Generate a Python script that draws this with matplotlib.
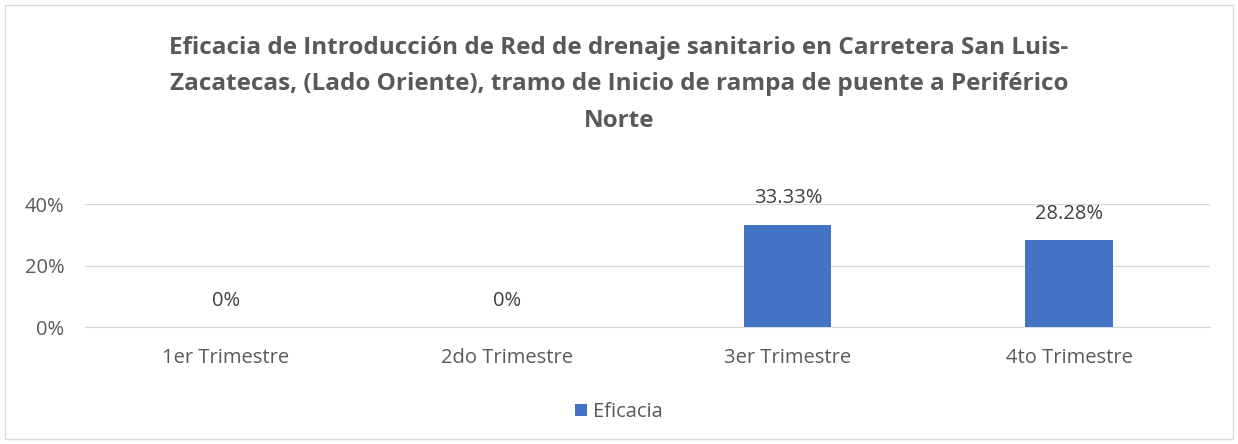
import matplotlib.pyplot as plt
from matplotlib.ticker import PercentFormatter

plt.rcParams['font.family'] = ['Open Sans', 'DejaVu Sans']

categories = ['1er Trimestre', '2do Trimestre', '3er Trimestre', '4to Trimestre']
eficacia = [0.0, 0.0, 33.33, 28.28]
value_labels = ['0%', '0%', '33.33%', '28.28%']
yticks = [0, 20, 40]

title = ('Eficacia de Introducción de Red de drenaje sanitario en Carretera San Luis-\n'
         'Zacatecas, (Lado Oriente), tramo de Inicio de rampa de puente a Periférico\n'
         'Norte')

text_col = '#595959'
bar_col = '#4472C4'

fig = plt.figure(figsize=(12.38, 4.44), dpi=100)
ax = fig.add_axes([0.0687, 0.2635, 0.9083, 0.277])

x = range(len(categories))
bars = ax.bar(x, eficacia, width=0.31, color=bar_col, label='Eficacia', zorder=3)

for b, lab in zip(bars, value_labels):
    ax.annotate(lab, (b.get_x() + b.get_width() / 2, b.get_height()),
                xytext=(0, 19), textcoords='offset points',
                ha='center', va='center', fontsize=14.5, color='#404040')

ax.set_xlim(-0.5, len(categories) - 0.5)
ax.set_ylim(0, 40)
ax.set_yticks(yticks)
ax.yaxis.set_major_formatter(PercentFormatter(decimals=0))
ax.set_xticks(list(x))
ax.set_xticklabels(categories)
ax.tick_params(axis='both', length=0, labelsize=14.5, colors=text_col)
ax.tick_params(axis='x', pad=15)
ax.tick_params(axis='y', pad=15)
ax.grid(axis='y', color='#D9D9D9', linewidth=1, zorder=0)
for s in ['top', 'right', 'left']:
    ax.spines[s].set_visible(False)
ax.spines['bottom'].set_color('#D9D9D9')

fig.text(0.5, 0.92, title, ha='center', va='top', fontsize=17.5,
         fontweight='bold', color=text_col, linespacing=1.7)

leg = fig.legend(loc='center', bbox_to_anchor=(0.5, 0.072), frameon=False,
                 fontsize=14.5, handlelength=0.6, handleheight=0.6,
                 handletextpad=0.3)
for t in leg.get_texts():
    t.set_color(text_col)

fig.patches.append(plt.Rectangle((0.004, 0.011), 0.992, 0.978, transform=fig.transFigure,
                                 fill=False, edgecolor='#D9D9D9', linewidth=1))

fig.savefig('out.png', dpi=100)
